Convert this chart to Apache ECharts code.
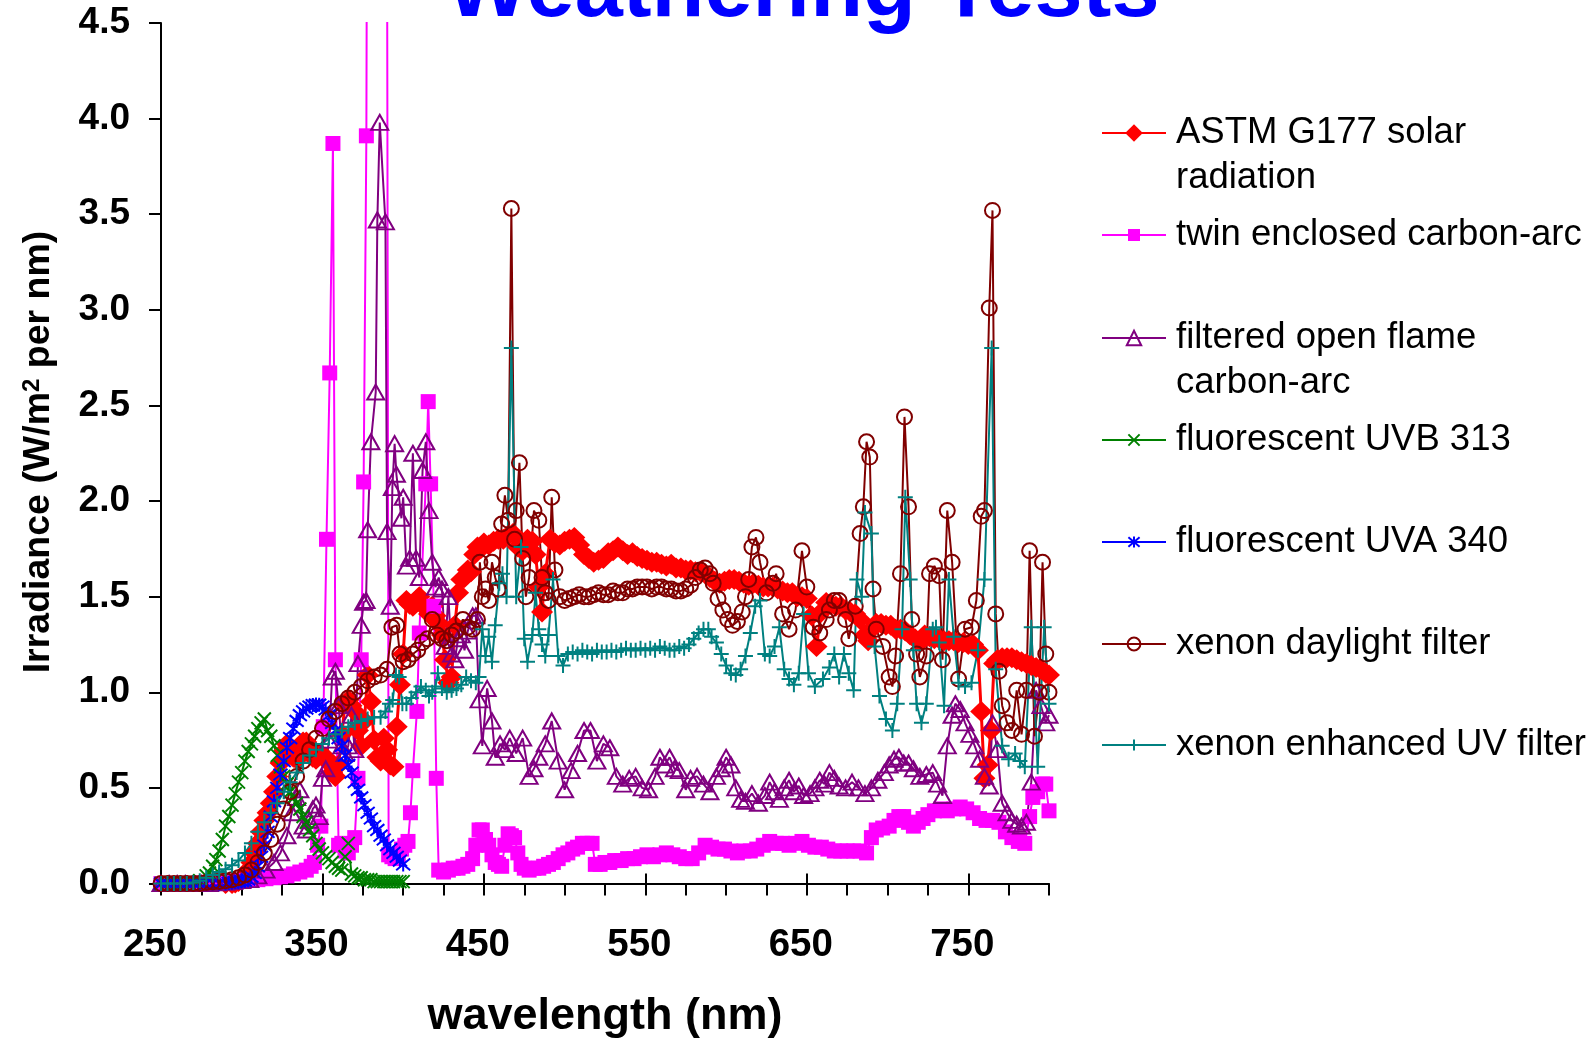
<!DOCTYPE html>
<html><head><meta charset="utf-8">
<script src="https://cdn.jsdelivr.net/npm/echarts@6/dist/echarts.min.js"></script>
<style>html,body{margin:0;padding:0;background:#fff}#c{width:1596px;height:1039px}</style>
</head><body><div id="c"></div>
<script>
const chartTitle = 'Weathering Tests';
const xTitle = 'wavelength (nm)';
const yTitle = 'Irradiance (W/m{sup|2} per nm)';
const xTickLabels = [250, 350, 450, 550, 650, 750];
const yTickLabels = [0, 0.5, 1, 1.5, 2, 2.5, 3, 3.5, 4, 4.5];
const seriesNames = ['ASTM G177 solar radiation','twin enclosed carbon-arc','filtered open flame carbon-arc','fluorescent UVB 313','fluorescent UVA 340','xenon daylight filter','xenon enhanced UV filter'];

// [wavelength nm, irradiance W/m2/nm]
const astmG177 = [[290,0],[294,0],[296,0.003],[298,0.01],[300,0.02],[302,0.04],[304,0.07],[306,0.11],[308,0.16],[310,0.21],[312,0.27],[314,0.33],[316,0.37],[318,0.42],[320,0.48],[322,0.56],[324,0.63],[326,0.69],[328,0.73],[330,0.7],[332,0.66],[334,0.65],[336,0.71],[338,0.74],[340,0.74],[342,0.69],[344,0.66],[346,0.65],[348,0.68],[350,0.67],[352,0.66],[354,0.63],[356,0.58],[358,0.56],[360,0.62],[362,0.78],[364,0.94],[366,0.96],[368,0.93],[370,0.9],[372,0.8],[374,0.72],[376,0.85],[378,1.09],[380,0.95],[382,0.75],[384,0.66],[386,0.64],[388,0.76],[390,0.7],[392,0.62],[394,0.61],[396,0.82],[398,1.04],[400,1.2],[402,1.48],[404,1.46],[406,1.45],[408,1.48],[410,1.5],[412,1.46],[414,1.44],[416,1.41],[418,1.45],[420,1.4],[422,1.36],[424,1.3],[426,1.17],[428,1.05],[430,1.08],[432,1.35],[434,1.52],[436,1.59],[438,1.6],[440,1.64],[442,1.63],[444,1.72],[446,1.76],[448,1.75],[450,1.78],[453,1.77],[456,1.79],[459,1.8],[462,1.8],[465,1.82],[468,1.83],[471,1.76],[474,1.74],[477,1.8],[480,1.79],[482,1.72],[484,1.55],[486,1.42],[488,1.62],[491,1.8],[494,1.78],[497,1.77],[500,1.79],[503,1.8],[506,1.81],[509,1.77],[512,1.72],[515,1.7],[518,1.68],[521,1.69],[524,1.7],[527,1.73],[530,1.74],[533,1.76],[536,1.74],[539,1.72],[542,1.73],[545,1.71],[548,1.7],[551,1.69],[554,1.68],[557,1.68],[560,1.67],[563,1.66],[566,1.67],[569,1.65],[572,1.65],[575,1.64],[578,1.64],[581,1.63],[584,1.63],[587,1.62],[590,1.6],[593,1.58],[596,1.57],[599,1.58],[602,1.59],[605,1.59],[608,1.58],[611,1.57],[614,1.56],[617,1.57],[620,1.56],[623,1.55],[626,1.55],[629,1.55],[632,1.54],[635,1.53],[638,1.52],[641,1.52],[644,1.5],[647,1.5],[650,1.49],[653,1.4],[656,1.24],[659,1.42],[662,1.47],[665,1.46],[668,1.45],[671,1.45],[674,1.43],[677,1.42],[680,1.41],[683,1.38],[686,1.3],[688,1.27],[690,1.33],[693,1.36],[696,1.36],[699,1.35],[702,1.35],[705,1.33],[708,1.33],[711,1.32],[714,1.3],[717,1.28],[720,1.26],[723,1.3],[726,1.29],[729,1.28],[732,1.28],[735,1.27],[738,1.27],[741,1.27],[744,1.26],[747,1.26],[750,1.25],[753,1.25],[756,1.22],[758,0.9],[760,0.55],[762,0.62],[764,0.8],[766,1.15],[768,1.17],[771,1.18],[774,1.18],[777,1.18],[780,1.17],[783,1.16],[786,1.15],[789,1.14],[792,1.13],[795,1.12],[798,1.1],[800,1.09]];

const twinCarbonArc = [[250,0],[255,0],[260,0],[265,0],[270,0],[275,0.003],[280,0.005],[285,0.008],[290,0.01],[295,0.012],[300,0.015],[305,0.018],[310,0.02],[315,0.025],[320,0.03],[324,0.035],[328,0.04],[332,0.05],[336,0.06],[340,0.07],[343,0.09],[345,0.11],[347,0.2],[349,0.3],[350.5,0.82],[352.5,1.8],[354.5,2.67],[356.5,3.87],[358,1.17],[360,0.2],[362,0.21],[364,0.17],[366,0.16],[368,0.2],[370,0.24],[372,0.55],[374,1.17],[375.5,2.1],[377.2,3.91],[379,10],[389,10],[391,0.15],[393,0.14],[395,0.13],[397,0.15],[399,0.18],[401,0.2],[403,0.22],[404.5,0.37],[406,0.59],[408.5,0.9],[410,1.31],[414,2.09],[415.5,2.52],[417,2.09],[419,1.45],[420.5,0.55],[422,0.07],[425,0.06],[428,0.07],[431,0.08],[434,0.08],[437,0.09],[440,0.1],[443,0.13],[445,0.2],[447,0.28],[449,0.28],[451,0.23],[453,0.2],[455,0.15],[457,0.11],[459,0.1],[461,0.09],[463,0.2],[465,0.26],[467,0.25],[469,0.24],[471,0.16],[473,0.1],[475,0.08],[478,0.07],[481,0.08],[484,0.08],[487,0.09],[490,0.1],[493,0.11],[496,0.13],[499,0.15],[502,0.16],[505,0.18],[508,0.19],[511,0.21],[514,0.21],[517,0.21],[519,0.1],[522,0.1],[525,0.11],[528,0.11],[531,0.12],[535,0.12],[539,0.13],[543,0.13],[547,0.14],[551,0.15],[555,0.14],[559,0.15],[563,0.16],[567,0.15],[571,0.14],[575,0.13],[579,0.13],[583,0.16],[587,0.2],[591,0.19],[595,0.18],[599,0.18],[603,0.17],[607,0.16],[611,0.17],[615,0.17],[619,0.18],[623,0.2],[627,0.22],[631,0.21],[635,0.21],[639,0.2],[643,0.21],[647,0.22],[651,0.2],[655,0.19],[659,0.19],[663,0.18],[667,0.17],[671,0.17],[675,0.17],[679,0.17],[683,0.17],[687,0.16],[690,0.24],[693,0.28],[697,0.29],[701,0.3],[704,0.33],[707,0.35],[710,0.35],[713,0.32],[716,0.3],[719,0.32],[722,0.34],[725,0.36],[729,0.38],[733,0.39],[737,0.38],[741,0.39],[745,0.4],[749,0.39],[753,0.37],[757,0.34],[761,0.33],[765,0.33],[769,0.32],[773,0.27],[777,0.24],[781,0.22],[785,0.21],[788,0.35],[790,0.45],[793,0.48],[796,0.52],[798,0.52],[800,0.38]];

const openFlameCarbonArc = [[250,0],[255,0],[260,0],[265,0],[270,0],[275,0],[280,0],[285,0.003],[290,0.006],[295,0.01],[300,0.015],[305,0.02],[310,0.04],[315,0.07],[320,0.11],[324,0.16],[328,0.25],[331,0.37],[334,0.45],[336,0.49],[338,0.3],[340,0.28],[342,0.33],[344,0.39],[346,0.41],[348,0.35],[350,0.55],[352,0.6],[354,0.75],[356,1.08],[358,1.11],[360,0.93],[362,0.72],[364,0.68],[366,0.72],[368,0.88],[370,0.7],[372,1.15],[374,1.35],[375.5,1.47],[377,1.48],[378,1.85],[380,2.31],[383,2.57],[384,3.47],[385.5,3.98],[389,3.46],[390,1.84],[392,1.45],[393.3,2.07],[394.7,2.3],[395.8,2.14],[398.9,1.91],[400,2.02],[402,1.66],[404,1.7],[406,2.25],[408,1.7],[410,1.6],[412,2.16],[414,2.31],[416,1.95],[418,1.68],[420,1.55],[422,1.6],[424,1.54],[426,1.24],[428,1.5],[430,1.2],[432,1.17],[434,1.28],[436,1.3],[438,1.22],[440,1.32],[443,1.4],[445,1.4],[447,0.96],[449,0.72],[452,1.02],[455,0.85],[457,0.66],[460,0.73],[463,0.7],[466,0.76],[470,0.68],[474,0.76],[478,0.56],[481,0.6],[484,0.66],[488,0.73],[492,0.85],[496,0.64],[500,0.49],[504,0.59],[508,0.68],[512,0.8],[516,0.8],[520,0.64],[524,0.73],[528,0.71],[532,0.56],[536,0.52],[540,0.55],[544,0.56],[548,0.5],[552,0.49],[556,0.56],[559,0.66],[562,0.62],[565,0.66],[568,0.6],[571,0.59],[575,0.49],[578,0.55],[582,0.56],[586,0.52],[590,0.48],[594,0.56],[597,0.6],[600,0.66],[603,0.62],[606,0.5],[609,0.44],[612,0.43],[616,0.47],[620,0.42],[624,0.46],[627,0.53],[630,0.48],[633,0.44],[636,0.5],[639,0.54],[642,0.48],[645,0.51],[648,0.46],[652,0.47],[655,0.5],[658,0.54],[661,0.52],[664,0.58],[667,0.55],[670,0.51],[674,0.5],[678,0.53],[682,0.5],[686,0.47],[690,0.5],[694,0.54],[698,0.58],[701,0.62],[704,0.65],[707,0.66],[710,0.63],[713,0.63],[716,0.6],[720,0.56],[724,0.57],[728,0.58],[731,0.52],[734,0.46],[737,0.72],[740,0.88],[742,0.94],[745,0.91],[748,0.84],[751,0.78],[754,0.72],[757,0.65],[760,0.56],[763,0.51],[765,0.84],[768,0.7],[771,0.42],[774,0.37],[777,0.33],[780,0.31],[783,0.3],[786,0.32],[789,0.53],[792,1.01],[795,0.93],[798,0.84],[800,0.88]];

const uvb313 = [[250,0],[254,0],[258,0],[262,0],[266,0],[270,0.005],[274,0.015],[278,0.04],[280,0.055],[282,0.09],[284,0.125],[286,0.17],[288,0.23],[290,0.3],[292,0.35],[294,0.41],[296,0.47],[298,0.53],[300,0.58],[302,0.64],[304,0.69],[306,0.73],[308,0.77],[310,0.81],[312,0.84],[314,0.86],[316,0.8],[318,0.77],[320,0.72],[322,0.67],[324,0.61],[326,0.56],[328,0.52],[330,0.48],[332,0.45],[334,0.42],[336,0.39],[338,0.35],[340,0.32],[342,0.28],[344,0.25],[346,0.21],[348,0.18],[350,0.16],[352,0.14],[354,0.13],[356,0.11],[358,0.09],[360,0.08],[362,0.07],[364,0.14],[366,0.21],[368,0.05],[370,0.04],[372,0.03],[374,0.03],[376,0.02],[378,0.02],[380,0.02],[382,0.01],[384,0.01],[386,0.01],[388,0.01],[390,0.01],[392,0.01],[394,0.01],[396,0.01],[398,0.01],[400,0.01]];

const uva340 = [[250,0],[254,0],[258,0],[262,0],[266,0],[270,0],[274,0],[278,0],[282,0],[286,0],[290,0],[292,0.003],[294,0.005],[296,0.008],[298,0.01],[300,0.012],[302,0.015],[304,0.02],[306,0.035],[308,0.055],[310,0.09],[312,0.14],[314,0.2],[316,0.27],[318,0.35],[320,0.43],[322,0.5],[324,0.57],[326,0.64],[328,0.71],[330,0.76],[332,0.81],[334,0.85],[336,0.88],[338,0.9],[340,0.915],[342,0.925],[344,0.933],[346,0.936],[348,0.935],[350,0.925],[352,0.91],[354,0.88],[356,0.84],[358,0.8],[360,0.76],[362,0.72],[364,0.67],[366,0.62],[368,0.58],[370,0.53],[372,0.49],[374,0.45],[376,0.41],[378,0.37],[380,0.34],[382,0.3],[384,0.28],[386,0.25],[388,0.23],[390,0.2],[392,0.18],[394,0.16],[396,0.14],[398,0.12],[400,0.1]];

const xenonDaylight = [[250,0],[254,0],[258,0],[262,0],[266,0],[270,0],[274,0],[278,0.005],[282,0.008],[286,0.01],[290,0.015],[294,0.02],[298,0.03],[302,0.045],[306,0.07],[310,0.11],[314,0.16],[318,0.23],[322,0.31],[326,0.39],[330,0.48],[334,0.56],[338,0.64],[342,0.7],[346,0.76],[350,0.81],[354,0.86],[358,0.9],[362,0.94],[366,0.97],[370,1.0],[374,1.03],[378,1.06],[382,1.08],[386,1.09],[390,1.12],[393,1.34],[396,1.35],[398,1.2],[400,1.16],[403,1.17],[406,1.2],[409,1.22],[412,1.26],[415,1.28],[418,1.38],[421,1.3],[424,1.28],[427,1.27],[430,1.3],[433,1.32],[437,1.38],[440,1.34],[443,1.33],[446,1.38],[447.5,1.68],[449,1.5],[451,1.54],[453,1.48],[455,1.68],[457,1.6],[459,1.54],[461,1.88],[463,2.03],[465,1.9],[467,3.53],[469,1.8],[470,1.95],[472,2.2],[474,1.7],[476,1.5],[478,1.6],[481,1.95],[484,1.9],[486,1.6],[488,1.52],[490,1.48],[492,2.02],[494,1.64],[497,1.5],[500,1.48],[503,1.49],[506,1.5],[509,1.51],[512,1.5],[515,1.5],[518,1.51],[521,1.52],[524,1.51],[527,1.51],[530,1.53],[533,1.52],[536,1.52],[539,1.54],[542,1.54],[545,1.55],[548,1.55],[551,1.55],[554,1.54],[557,1.55],[560,1.55],[563,1.54],[566,1.54],[569,1.53],[572,1.53],[575,1.54],[578,1.56],[581,1.6],[584,1.64],[587,1.65],[590,1.62],[592,1.57],[595,1.49],[598,1.43],[601,1.38],[604,1.35],[607,1.37],[610,1.42],[612,1.5],[614,1.59],[616,1.76],[618.5,1.81],[621,1.68],[625,1.52],[629,1.57],[631,1.62],[635,1.41],[639,1.33],[643,1.43],[647,1.74],[650,1.55],[654,1.34],[658,1.31],[662,1.38],[664,1.43],[667,1.48],[670,1.48],[674,1.38],[676,1.28],[680,1.45],[683,1.83],[685,1.97],[687,2.31],[689,2.23],[691,1.54],[693,1.33],[697,1.24],[701,1.08],[703,1.03],[705,1.19],[708,1.62],[710.5,2.44],[713,1.97],[715,1.38],[718,1.2],[720,1.08],[724,1.19],[726,1.62],[729,1.66],[732,1.61],[734,1.17],[737,1.95],[740,1.68],[744,1.07],[748,1.33],[752,1.34],[755,1.48],[758,1.92],[760,1.95],[763,3.01],[765,3.52],[767,1.41],[769,1.11],[771,0.93],[774,0.84],[777,0.8],[780,1.01],[783,0.78],[786,1.01],[788,1.74],[791,0.77],[794,1.0],[796,1.68],[798,1.2],[800,1.0]];

const xenonEnhancedUV = [[250,0],[254,0],[258,0],[262,0],[266,0],[270,0.005],[274,0.015],[278,0.03],[282,0.045],[286,0.06],[290,0.075],[294,0.095],[298,0.12],[302,0.16],[306,0.21],[310,0.27],[314,0.32],[318,0.37],[322,0.42],[326,0.48],[330,0.53],[334,0.58],[338,0.63],[342,0.67],[346,0.7],[350,0.73],[354,0.76],[358,0.78],[362,0.8],[366,0.82],[370,0.84],[374,0.85],[378,0.86],[382,0.87],[386,0.87],[389,0.9],[391.5,0.94],[393.5,0.96],[395.5,1.09],[397.5,1.08],[399.5,0.94],[402,0.94],[405,0.97],[408,1.0],[411,1.03],[414,1.01],[416,0.98],[418,1.0],[420,1.03],[421.5,1.1],[424,1.02],[427,1.0],[430,1.01],[433,1.02],[436,1.04],[439,1.08],[442,1.06],[445,1.05],[447,1.08],[449,1.33],[451,1.19],[453,1.29],[455,1.16],[457,1.35],[459.5,1.57],[461.5,1.62],[464,1.5],[467,2.8],[470,1.5],[473,1.76],[475,1.28],[477,1.16],[480,1.3],[482,1.52],[484,1.33],[486,1.25],[488,1.19],[490,1.3],[492.8,1.59],[496,1.19],[499,1.14],[502,1.2],[505,1.21],[508,1.2],[511,1.22],[514,1.21],[517,1.2],[520,1.22],[523,1.21],[526,1.21],[529,1.22],[532,1.21],[535,1.22],[538,1.23],[541,1.22],[544,1.22],[547,1.23],[550,1.22],[553,1.23],[556,1.22],[559,1.24],[562,1.23],[565,1.22],[568,1.22],[571,1.24],[574,1.23],[577,1.25],[580,1.28],[583,1.31],[586,1.33],[589,1.33],[591,1.29],[594,1.26],[597,1.2],[600,1.14],[603,1.1],[606,1.09],[609,1.12],[612,1.19],[615,1.31],[618,1.45],[621,1.48],[624,1.2],[627,1.19],[630,1.24],[633,1.34],[636,1.12],[639,1.07],[642,1.04],[645,1.1],[648,1.41],[651,1.1],[655,1.03],[660,1.07],[664,1.13],[667,1.2],[670,1.08],[673,1.2],[676,1.1],[679,1.01],[681,1.59],[684,1.5],[686,1.94],[690,1.83],[692,1.24],[695,0.98],[699,0.86],[703,0.8],[706,0.94],[709,1.33],[711,2.02],[714,1.59],[716,1.22],[718,0.94],[721,0.84],[724,0.94],[728,1.33],[730,1.34],[732,1.26],[735,0.93],[738,1.59],[741,1.29],[744,1.05],[748,1.03],[752,1.05],[756,1.22],[760,1.59],[764.5,2.8],[767,1.12],[771,0.72],[775,0.65],[779,0.68],[782,0.64],[785,0.61],[789,1.34],[793,0.61],[797,1.34],[800,0.94]];

const FONT = '"Liberation Sans", Arial, Helvetica, sans-serif';
const chart = echarts.init(document.getElementById('c'), null, {renderer: 'canvas'});

const styles = [
  {data: astmG177, color: '#FF0000', symbol: 'diamond', size: [22, 21], lw: 3, fill: '#FF0000', bw: 0, legendH: 22},
  {data: twinCarbonArc, color: '#FF00FF', symbol: 'rect', size: 15, lw: 2, fill: '#FF00FF', bw: 0, legendH: 15},
  {data: openFlameCarbonArc, color: '#800080', symbol: 'triangle', size: [17, 15], lw: 2, fill: 'rgba(0,0,0,0)', bw: 2, legendH: 18},
  {data: uvb313, color: '#008000', symbol: 'path://M0,0L10,10M10,0L0,10', size: 13, lw: 2, fill: '#008000', bw: 2, legendH: 14},
  {data: uva340, color: '#0000FF', symbol: 'path://M0,0L10,10M10,0L0,10M5,-1L5,11', size: 14, lw: 2, fill: '#0000FF', bw: 2, legendH: 14},
  {data: xenonDaylight, color: '#800000', symbol: 'circle', size: 15, lw: 2, fill: 'rgba(0,0,0,0)', bw: 2, legendH: 16},
  {data: xenonEnhancedUV, color: '#008080', symbol: 'path://M5,0L5,10M0,5L10,5', size: 15, lw: 2, fill: '#008080', bw: 2, legendH: 14}
];

const series = styles.map((s, i) => ({
  name: seriesNames[i],
  type: 'line',
  data: s.data,
  symbol: s.symbol,
  symbolSize: s.size,
  showAllSymbol: true,
  clip: true,
  lineStyle: {color: s.color, width: s.lw},
  itemStyle: {color: s.fill, borderColor: s.color, borderWidth: s.bw},
  emphasis: {disabled: true},
  z: 2
}));

const legendCenters = [133, 235, 338, 440, 542, 644, 745];
const firstLines = ['ASTM G177 solar', 'twin enclosed carbon-arc', 'filtered open flame', 'fluorescent UVB 313', 'fluorescent UVA 340', 'xenon daylight filter', 'xenon enhanced UV filter'];
const legends = seriesNames.map((n, i) => ({
  show: true, orient: 'vertical', left: 1101, top: legendCenters[i] - 22.5, padding: 0,
  itemWidth: 64, itemHeight: styles[i].legendH, selectedMode: false,
  data: [n],
  formatter: () => firstLines[i],
  textStyle: {fontFamily: FONT, fontSize: 36.5, color: '#000', lineHeight: 45, padding: [0, 0, 0, 5]}
}));

const option = {
  animation: false,
  backgroundColor: '#fff',
  grid: {left: 161, right: 547, top: 23, bottom: 155.5, containLabel: false},
  xAxis: [{
    type: 'value', min: 250, max: 800, interval: 25,
    axisLine: {show: true, onZero: false, lineStyle: {color: '#000', width: 2}},
    axisTick: {show: true, inside: false, length: 12, lineStyle: {color: '#000', width: 2}},
    axisLabel: {show: true, customValues: xTickLabels, margin: 42, padding: [0, 12, 0, 0],
      fontFamily: FONT, fontSize: 38.5, fontWeight: 'bold', color: '#000'},
    splitLine: {show: false}
  }, {
    type: 'value', min: 250, max: 800, position: 'bottom', gridIndex: 0,
    axisLine: {show: false},
    axisTick: {show: true, inside: true, length: 10, customValues: xTickLabels.slice(1), lineStyle: {color: '#000', width: 2}},
    axisLabel: {show: false},
    splitLine: {show: false}
  }],
  yAxis: {
    type: 'value', min: 0, max: 4.5, interval: 0.5,
    axisLine: {show: true, lineStyle: {color: '#000', width: 2}},
    axisTick: {show: true, inside: false, length: 12, lineStyle: {color: '#000', width: 2}},
    axisLabel: {show: true, customValues: yTickLabels, margin: 31, formatter: v => v.toFixed(1),
      fontFamily: FONT, fontSize: 37, fontWeight: 'bold', color: '#000'},
    splitLine: {show: false}
  },
  legend: legends,
  series: series,
  graphic: [
    {type: 'text', x: 803, y: -7.5, silent: true, z: 10,
     style: {text: chartTitle, font: 'bold 86.5px ' + FONT, fill: '#0000FF', align: 'center', verticalAlign: 'middle', textAlign: 'center', textVerticalAlign: 'middle'}},
    {type: 'text', x: 605, y: 1017, silent: true,
     style: {text: xTitle, font: 'bold 45px ' + FONT, fill: '#000', align: 'center', verticalAlign: 'middle', textAlign: 'center', textVerticalAlign: 'middle'}},
    {type: 'text', x: 39, y: 452, rotation: Math.PI / 2, silent: true,
     style: {text: yTitle, font: 'bold 37.5px ' + FONT, fill: '#000', align: 'center', verticalAlign: 'middle', textAlign: 'center', textVerticalAlign: 'middle',
       rich: {sup: {font: 'bold 24px ' + FONT, fill: '#000', verticalAlign: 'top', lineHeight: 37.5}}}},
    {type: 'text', x: 1176, y: 178, silent: true,
     style: {text: 'radiation', font: '36.5px ' + FONT, fill: '#000', align: 'left', verticalAlign: 'middle', textAlign: 'left', textVerticalAlign: 'middle'}},
    {type: 'text', x: 1176, y: 383, silent: true,
     style: {text: 'carbon-arc', font: '36.5px ' + FONT, fill: '#000', align: 'left', verticalAlign: 'middle', textAlign: 'left', textVerticalAlign: 'middle'}}
  ]
};
chart.setOption(option);
</script>
</body></html>
